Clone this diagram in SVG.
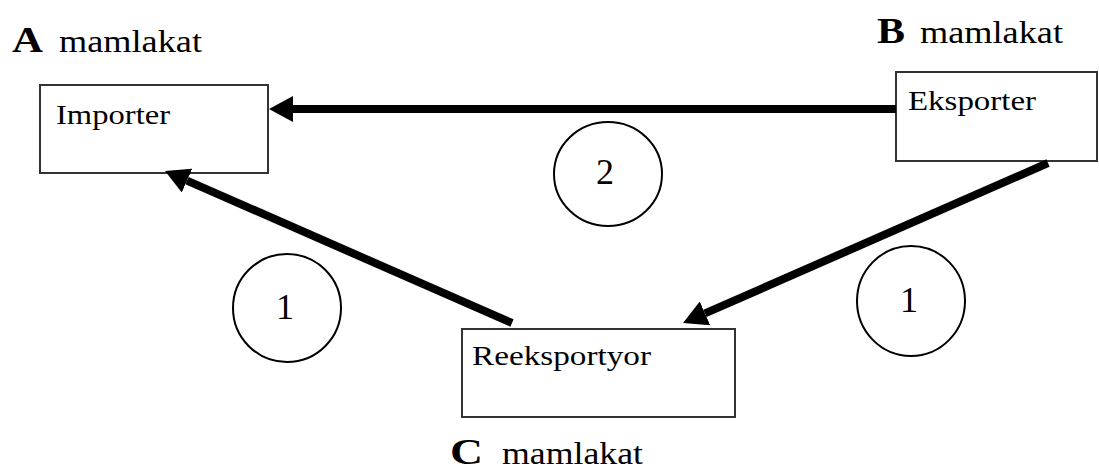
<svg xmlns="http://www.w3.org/2000/svg" width="1099" height="471" viewBox="0 0 1099 471">
<style>
.box{fill:#fff;stroke:#333;stroke-width:2}
.lbl{font-family:"Liberation Serif","Times New Roman",serif;font-size:27px;fill:#000}
.cty{font-family:"Liberation Serif","Times New Roman",serif;font-size:36px;font-weight:bold;fill:#000}
.mam{font-family:"Liberation Serif","Times New Roman",serif;font-size:31px;fill:#000}
.num{font-family:"Liberation Serif","Times New Roman",serif;font-size:36px;fill:#000;text-anchor:middle}
.circ{fill:none;stroke:#000;stroke-width:2}
.arr{stroke:#000;stroke-width:8;fill:none;marker-end:url(#ah)}
</style>
<defs>
<marker id="ah" viewBox="0 0 24 26" refX="0" refY="13" markerWidth="24" markerHeight="26" markerUnits="userSpaceOnUse" orient="auto">
<path d="M0,0 L24,13 L0,26 Z" fill="#000"/>
</marker>
</defs>
<g id="label-A">
<text class="cty" x="12" y="52" textLength="31" lengthAdjust="spacingAndGlyphs">A</text>
<text class="mam" x="59" y="52" textLength="143" lengthAdjust="spacingAndGlyphs">mamlakat</text>
</g>
<g id="label-B">
<text class="cty" x="877" y="43" textLength="28" lengthAdjust="spacingAndGlyphs">B</text>
<text class="mam" x="920" y="43" textLength="143" lengthAdjust="spacingAndGlyphs">mamlakat</text>
</g>
<g id="label-C">
<text class="cty" x="450" y="464" textLength="33" lengthAdjust="spacingAndGlyphs">C</text>
<text class="mam" x="502" y="464" textLength="141" lengthAdjust="spacingAndGlyphs">mamlakat</text>
</g>
<g id="node-importer">
<rect class="box" x="40" y="85" width="228" height="88"/>
<text class="lbl" x="56" y="124" textLength="114" lengthAdjust="spacingAndGlyphs">Importer</text>
</g>
<g id="node-eksporter">
<rect class="box" x="896" y="72" width="201" height="89"/>
<text class="lbl" x="908" y="110" textLength="128" lengthAdjust="spacingAndGlyphs">Eksporter</text>
</g>
<g id="node-reeksportyor">
<rect class="box" x="462" y="329" width="273" height="88"/>
<text class="lbl" x="472" y="365" textLength="179" lengthAdjust="spacingAndGlyphs">Reeksportyor</text>
</g>
<g id="connectors">
<line class="arr" x1="896" y1="109" x2="293" y2="109"/>
<line class="arr" x1="512" y1="323" x2="187" y2="180.6"/>
<line class="arr" x1="1048" y1="163" x2="705" y2="313.4"/>
</g>
<g id="badge-2">
<ellipse class="circ" cx="608" cy="174" rx="54" ry="52"/>
<text class="num" x="605" y="184">2</text>
</g>
<g id="badge-1-left">
<ellipse class="circ" cx="287" cy="308" rx="54" ry="54"/>
<text class="num" x="285" y="319">1</text>
</g>
<g id="badge-1-right">
<ellipse class="circ" cx="911" cy="301" rx="54" ry="55"/>
<text class="num" x="909" y="312">1</text>
</g>
</svg>
